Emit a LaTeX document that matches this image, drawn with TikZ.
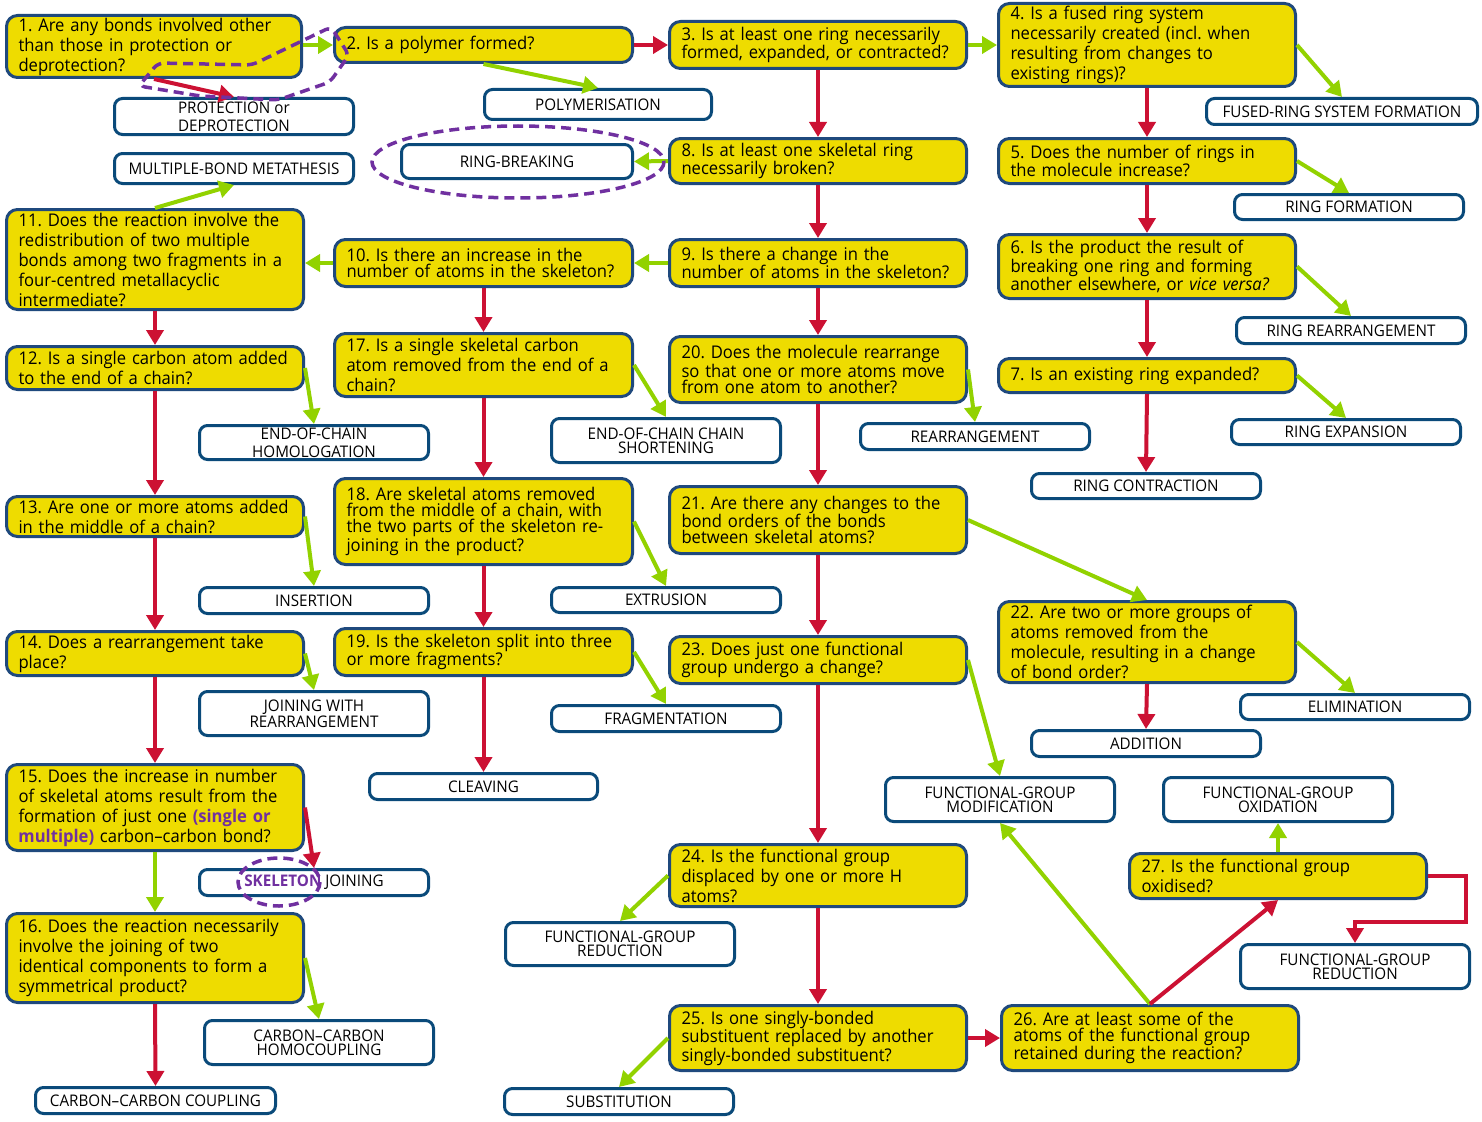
\documentclass[tikz,border=0pt]{standalone}
\usepackage{fontspec}
\setmainfont{Open Sans}[FakeStretch=0.95]
\usetikzlibrary{arrows.meta,calc}
\definecolor{qfill}{RGB}{238,220,0}
\definecolor{qline}{RGB}{31,73,125}
\definecolor{wline}{RGB}{10,74,122}
\definecolor{ared}{RGB}{204,17,51}
\definecolor{agreen}{RGB}{146,210,0}
\definecolor{purp}{RGB}{112,48,160}
\frenchspacing
\newcommand\qfont{\fontsize{17.5}{20}\selectfont}
\newcommand\qtight{\fontsize{17.5}{16}\selectfont}
\newcommand\wfont{\fontsize{16}{18}\selectfont}
\newcommand\wtight{\fontsize{16}{14}\selectfont}
\tikzset{
  qb/.style={draw=qline, fill=qfill, line width=3pt, rounded corners=11pt, inner sep=0pt, align=left, font=\qfont},
  wb/.style={draw=wline, fill=white, line width=3pt, rounded corners=8pt, inner sep=0pt, align=center, font=\wfont},
  ya/.style={draw=agreen, line width=4pt, -{Triangle[width=17pt,length=15pt]}},
  na/.style={draw=ared, line width=4pt, -{Triangle[width=17pt,length=15pt]}},
  pd/.style={draw=purp, line width=3.5pt, dash pattern=on 10pt off 6pt},
}
\newcommand\qbox[7][]{%
  \pgfmathsetmacro\qw{#5-#3-3}\pgfmathsetmacro\qh{#6-#4-3}\pgfmathsetmacro\qtw{#5-#3-27}%
  \pgfmathsetmacro\qx{(#3+#5)/2}\pgfmathsetmacro\qy{(#4+#6)/2}%
  \node[qb,minimum width=\qw pt,minimum height=\qh pt,text width=\qtw pt,#1] (#2) at (\qx,\qy) {#7};}
\newcommand\wbox[7][]{%
  \pgfmathsetmacro\qw{#5-#3-3}\pgfmathsetmacro\qh{#6-#4-3}%
  \pgfmathsetmacro\qx{(#3+#5)/2}\pgfmathsetmacro\qy{(#4+#6)/2}%
  \node[wb,minimum width=\qw pt,minimum height=\qh pt,#1] (#2) at (\qx,\qy) {#7};}
\begin{document}
\begin{tikzpicture}[x=1pt,y=-1pt]
\fill[white] (0,0) rectangle (1482,1121);
\useasboundingbox (0,0) rectangle (1482,1121);
% question boxes
\qbox{q1}{5}{14}{303}{79}{1. Are any bonds involved other\\than those in protection or\\deprotection?}
\qbox{q2}{333}{26}{634}{64}{2. Is a polymer formed?}
\qbox[font=\qtight]{q3}{668}{20}{968}{70}{3. Is at least one ring necessarily\\formed, expanded, or contracted?}
\qbox{q4}{997}{2}{1297}{88}{4. Is a fused ring system\\necessarily created (incl. when\\resulting from changes to\\existing rings)?}
\qbox[font=\qtight]{q5}{997}{137}{1297}{185}{5. Does the number of rings in\\the molecule increase?}
\qbox[font=\qtight]{q6}{997}{233}{1297}{300}{6. Is the product the result of\\breaking one ring and forming\\another elsewhere, or \textit{vice versa?}}
\qbox{q7}{997}{357}{1297}{394}{7. Is an existing ring expanded?}
\qbox[font=\qtight]{q8}{668}{137}{968}{185}{8. Is at least one skeletal ring\\necessarily broken?}
\qbox[font=\qtight]{q9}{668}{238}{968}{288}{9. Is there a change in the\\number of atoms in the skeleton?}
\qbox[font=\qtight]{q10}{333}{238}{634}{288}{10. Is there an increase in the\\number of atoms in the skeleton?}
\qbox{q11}{5}{208}{305}{311}{11. Does the reaction involve the\\redistribution of two multiple\\bonds among two fragments in a\\four-centred metallacyclic\\intermediate?}
\qbox{q12}{5}{345}{305}{391}{12. Is a single carbon atom added\\to the end of a chain?}
\qbox{q13}{5}{495}{305}{538}{13. Are one or more atoms added\\in the middle of a chain?}
\qbox{q14}{5}{630}{305}{677}{14. Does a rearrangement take\\place?}
\qbox{q15}{5}{763}{305}{852}{15. Does the increase in number\\of skeletal atoms result from the\\formation of just one \textcolor{purp}{\bfseries (single or}\\\textcolor{purp}{\bfseries multiple)} carbon–carbon bond?}
\qbox{q16}{5}{912}{305}{1004}{16. Does the reaction necessarily\\involve the joining of two\\identical components to form a\\symmetrical product?}
\qbox{q17}{333}{332}{634}{398}{17. Is a single skeletal carbon\\atom removed from the end of a\\chain?}
\qbox[font=\qtight]{q18}{333}{477}{634}{566}{18. Are skeletal atoms removed\\from the middle of a chain, with\\the two parts of the skeleton re-\\joining in the product?}
\qbox[font=\qtight]{q19}{333}{627}{634}{677}{19. Is the skeleton split into three\\or more fragments?}
\qbox[font=\qtight]{q20}{668}{335}{968}{404}{20. Does the molecule rearrange\\so that one or more atoms move\\from one atom to another?}
\qbox[font=\qtight]{q21}{668}{485}{968}{555}{21. Are there any changes to the\\bond orders of the bonds\\between skeletal atoms?}
\qbox{q22}{997}{600}{1297}{684}{22. Are two or more groups of\\atoms removed from the\\molecule, resulting in a change\\of bond order?}
\qbox[font=\qtight]{q23}{668}{635}{968}{685}{23. Does just one functional\\group undergo a change?}
\qbox{q24}{668}{843}{968}{908}{24. Is the functional group\\displaced by one or more H\\atoms?}
\qbox[font=\qtight]{q25}{668}{1004}{968}{1072}{25. Is one singly-bonded\\substituent replaced by another\\singly-bonded substituent?}
\qbox[font=\qtight]{q26}{1000}{1004}{1300}{1072}{26. Are at least some of the\\atoms of the functional group\\retained during the reaction?}
\qbox{q27}{1128}{852}{1428}{900}{27. Is the functional group\\oxidised?}
% outcome boxes
\wbox[align=left]{prot}{113}{97}{355}{136}{PROTECTION or\\DEPROTECTION}
\wbox{mbm}{113}{152}{355}{185}{MULTIPLE-BOND METATHESIS}
\wbox{poly}{483}{88}{713}{121}{POLYMERISATION}
\wbox{rb}{400}{143}{634}{180}{RING-BREAKING}
\wbox{fused}{1205}{97}{1479}{126}{FUSED-RING SYSTEM FORMATION}
\wbox{rf}{1233}{193}{1465}{221}{RING FORMATION}
\wbox{rr}{1235}{316}{1467}{345}{RING REARRANGEMENT}
\wbox{rex}{1230}{418}{1462}{446}{RING EXPANSION}
\wbox{rc}{1030}{472}{1262}{500}{RING CONTRACTION}
\wbox{eoch}{198}{424}{430}{461}{END-OF-CHAIN\\HOMOLOGATION}
\wbox[font=\wtight]{eocs}{550}{417}{782}{464}{END-OF-CHAIN CHAIN\\SHORTENING}
\wbox{rea}{859}{422}{1091}{451}{REARRANGEMENT}
\wbox{ins}{198}{586}{430}{615}{INSERTION}
\wbox{ext}{550}{586}{782}{614}{EXTRUSION}
\wbox[font=\wtight]{jwr}{198}{690}{430}{737}{JOINING WITH\\REARRANGEMENT}
\wbox{frag}{550}{704}{782}{733}{FRAGMENTATION}
\wbox{clv}{368}{772}{599}{801}{CLEAVING}
\wbox{skj}{198}{868}{430}{897}{\textcolor{purp}{\bfseries SKELETON} JOINING}
\wbox[font=\wtight]{cch}{203}{1019}{435}{1066}{CARBON–CARBON\\HOMOCOUPLING}
\wbox{ccc}{34}{1086}{277}{1115}{CARBON–CARBON COUPLING}
\wbox[font=\wtight]{fgm}{884}{776}{1116}{823}{FUNCTIONAL-GROUP\\MODIFICATION}
\wbox[font=\wtight]{fgo}{1162}{776}{1394}{823}{FUNCTIONAL-GROUP\\OXIDATION}
\wbox[font=\wtight]{fgr2}{1239}{943}{1471}{990}{FUNCTIONAL-GROUP\\REDUCTION}
\wbox[font=\wtight]{fgr1}{504}{921}{736}{967}{FUNCTIONAL-GROUP\\REDUCTION}
\wbox{add}{1030}{729}{1262}{758}{ADDITION}
\wbox{elim}{1239}{693}{1471}{721}{ELIMINATION}
\wbox{subs}{503}{1087}{735}{1116}{SUBSTITUTION}
% connectors
\draw[ya] (q1.east |- q2.west) -- (q2.west);
\draw[na] (q1.south) -- (prot.north);
\draw[na] (q2.east) -- (q3.west);
\draw[ya] (q2.south) -- (poly.north);
\draw[ya] (q3.east) -- (q4.west);
\draw[na] (q3.south) -- (q8.north);
\draw[ya] (q4.east) -- (fused.north);
\draw[na] (q4.south) -- (q5.north);
\draw[ya] (q5.east) -- (rf.north);
\draw[na] (q5.south) -- (q6.north);
\draw[ya] (q6.east) -- (rr.north);
\draw[na] (q6.south) -- (q7.north);
\draw[ya] (q7.east) -- (rex.north);
\draw[na] (q7.south) -- (rc.north);
\draw[ya] (q8.west) -- (rb.east);
\draw[na] (q8.south) -- (q9.north);
\draw[ya] (q9.west) -- (q10.east);
\draw[na] (q9.south) -- (q20.north);
\draw[ya] (q10.west) -- (q11.east |- q10.west);
\draw[na] (q10.south) -- (q17.north);
\draw[ya] (q11.north) -- (mbm.south);
\draw[na] (q11.south) -- (q12.north);
\draw[ya] (q12.east) -- (eoch.north);
\draw[na] (q12.south) -- (q13.north);
\draw[ya] (q13.east) -- (ins.north);
\draw[na] (q13.south) -- (q14.north);
\draw[ya] (q14.east) -- (jwr.north);
\draw[na] (q14.south) -- (q15.north);
\draw[na] (q15.east) -- (skj.north);
\draw[ya] (q15.south) -- (q16.north);
\draw[ya] (q16.east) -- (cch.north);
\draw[na] (q16.south) -- (ccc.north);
\draw[ya] (q17.east) -- (eocs.north);
\draw[na] (q17.south) -- (q18.north);
\draw[ya] (q18.east) -- (ext.north);
\draw[na] (q18.south) -- (q19.north);
\draw[ya] (q19.east) -- (frag.north);
\draw[na] (q19.south) -- (clv.north);
\draw[ya] (q20.east) -- (rea.north);
\draw[na] (q20.south) -- (q21.north);
\draw[ya] (q21.east) -- (q22.north);
\draw[na] (q21.south) -- (q23.north);
\draw[ya] (q22.east) -- (elim.north);
\draw[na] (q22.south) -- (add.north);
\draw[ya] (q23.east) -- (fgm.north);
\draw[na] (q23.south) -- (q24.north);
\draw[ya] (q24.west) -- (fgr1.north);
\draw[na] (q24.south) -- (q25.north);
\draw[ya] (q25.west) -- (subs.north);
\draw[na] (q25.east) -- (q26.west);
\draw[ya] (q26.north) -- (fgm.south);
\draw[na] (q26.north) -- (q27.south);
\draw[ya] (q27.north) -- (fgo.south);
\draw[na] (q27.east) -- ++(38,0) |- ([yshift=21pt]fgr2.north) -- (fgr2.north);
% purple highlights
\draw[pd] (518,162) ellipse [x radius=146, y radius=36];
\draw[pd] (279,882) ellipse [x radius=41, y radius=24];
\draw[pd, rounded corners=6pt] (139,86) -- (158,63) -- (252,65) -- (331,27) -- (349,55) -- (330,82) -- (278,100) -- (200,96) -- cycle;
\end{tikzpicture}
\end{document}
